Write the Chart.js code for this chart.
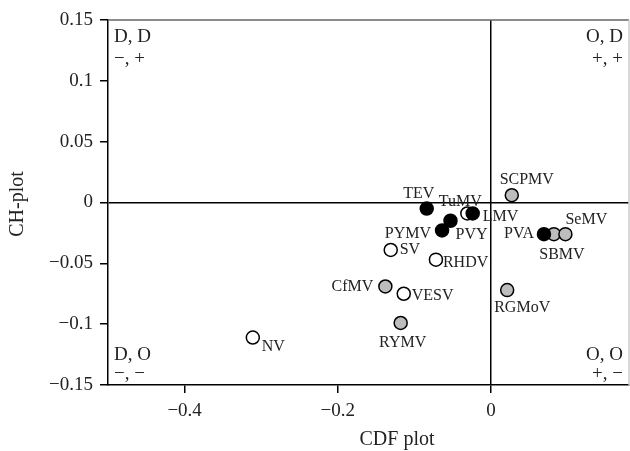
<!DOCTYPE html>
<html>
<head>
<meta charset="utf-8">
<script src="https://cdn.jsdelivr.net/npm/chart.js@4"></script>
<style>
    body { margin: 0; background: #fff; }
    #wrap { width: 630px; height: 451px; }
</style>
</head>
<body>
<div id="wrap"><canvas id="scatterChart" width="630" height="451"></canvas></div>
<script>
// Data
const virusNames = ["TEV", "TuMV", "LMV", "PVY", "PYMV", "SV", "RHDV", "PVA", "SBMV", "SeMV", "SCPMV", "CfMV", "VESV", "RGMoV", "RYMV", "NV"];
const cdfValues  = [-0.084, -0.031, -0.024, -0.053, -0.064, -0.131, -0.072, 0.069, 0.082, 0.097, 0.027, -0.138, -0.114, 0.021, -0.118, -0.311];
const chValues   = [-0.005, -0.009, -0.009, -0.015, -0.023, -0.039, -0.047, -0.026, -0.026, -0.026, 0.006, -0.069, -0.075, -0.072, -0.099, -0.111];
const markerKind = ["filled", "open", "filled", "filled", "filled", "open", "open", "filled", "shaded", "shaded", "shaded", "shaded", "open", "shaded", "shaded", "open"];
const cdfTicks = [-0.4, -0.2, 0];
const chTicks = [-0.15, -0.1, -0.05, 0, 0.05, 0.1, 0.15];

const serif = "'Liberation Serif', 'DejaVu Serif', serif";
const textColor = "#222";

// label placement relative to each marker: [dx, dy, align]
const labelPlace = {
    TEV: [-8, -15, "center"], TuMV: [-7, -12, "center"], LMV: [10, 3, "left"],
    PVY: [5, 14, "left"], PYMV: [-11, 3, "right"], SV: [9, 0, "left"],
    RHDV: [7, 3, "left"], PVA: [-10, 0, "right"], SBMV: [8, 21, "center"],
    SeMV: [0, -14, "left"], SCPMV: [15, -15, "center"], CfMV: [-12, 0, "right"],
    VESV: [8, 2, "left"], RGMoV: [15, 18, "center"], RYMV: [2, 20, "center"],
    NV: [9, 9, "left"]
};

const fills = { filled: "#000", shaded: "#bdbdbd", open: "#fff" };

function makeDataset(kind, order) {
    const pts = [];
    virusNames.forEach((name, i) => {
        if (markerKind[i] === kind) pts.push({ x: cdfValues[i], y: chValues[i], name: name });
    });
    return {
        label: kind,
        data: pts,
        backgroundColor: fills[kind],
        borderColor: "#000",
        borderWidth: 1.5,
        pointRadius: 6.5,
        pointHoverRadius: 6.5,
        order: order
    };
}

function fmt(v) {
    const s = String(Number(v.toFixed(2)));
    return s.replace("-", "\u2212");
}

const annotate = {
    id: "annotate",
    beforeDatasetsDraw(chart) {
        const { ctx, chartArea: a } = chart;
        ctx.save();
        ctx.strokeStyle = "#666";
        ctx.lineWidth = 1.5;
        ctx.beginPath();
        ctx.moveTo(a.left, a.top);
        ctx.lineTo(a.right, a.top);
        ctx.stroke();
        ctx.strokeStyle = "#ccc";
        ctx.beginPath();
        ctx.moveTo(a.right, a.top);
        ctx.lineTo(a.right, a.bottom);
        ctx.stroke();
        ctx.restore();
    },
    afterDatasetsDraw(chart) {
        const { ctx, chartArea: a, scales } = chart;
        ctx.save();
        ctx.fillStyle = textColor;
        ctx.textBaseline = "middle";

        // point labels
        ctx.font = "16px " + serif;
        virusNames.forEach((name, i) => {
            const p = labelPlace[name];
            const px = scales.x.getPixelForValue(cdfValues[i]);
            const py = scales.y.getPixelForValue(chValues[i]);
            ctx.textAlign = p[2];
            ctx.fillText(name, px + p[0], py + p[1]);
        });

        // quadrant notes
        ctx.font = "19px " + serif;
        ctx.textAlign = "left";
        ctx.fillText("D, D", a.left + 6, a.top + 17);
        ctx.fillText("\u2212, +", a.left + 6, a.top + 39);
        ctx.fillText("D, O", a.left + 6, a.bottom - 30);
        ctx.fillText("\u2212, \u2212", a.left + 6, a.bottom - 11);
        ctx.textAlign = "right";
        ctx.fillText("O, D", a.right - 6, a.top + 17);
        ctx.fillText("+, +", a.right - 6, a.top + 39);
        ctx.fillText("O, O", a.right - 6, a.bottom - 30);
        ctx.fillText("+, \u2212", a.right - 6, a.bottom - 11);

        // axis titles
        ctx.font = "20px " + serif;
        ctx.textAlign = "center";
        ctx.fillText("CDF plot", 397, 440);
        ctx.translate(18, 204);
        ctx.rotate(-Math.PI / 2);
        ctx.fillText("CH-plot", 0, 0);
        ctx.restore();
    }
};

document.addEventListener("DOMContentLoaded", () => {
    new Chart(document.getElementById("scatterChart"), {
        type: "scatter",
        data: {
            datasets: [makeDataset("filled", 1), makeDataset("shaded", 2), makeDataset("open", 3)]
        },
        options: {
            responsive: false,
            animation: false,
            events: [],
            layout: { autoPadding: false, padding: { left: 0, top: 20, right: 1, bottom: 0 } },
            plugins: {
                legend: { display: false },
                tooltip: { enabled: false }
            },
            scales: {
                x: {
                    type: "linear",
                    min: -0.5,
                    max: 0.18,
                    afterBuildTicks: scale => { scale.ticks = cdfTicks.map(v => ({ value: v })); },
                    afterFit: scale => {
                        scale.height = 66;
                        scale.paddingLeft = 0;
                        scale.paddingRight = 0;
                    },
                    border: { display: true, color: "#000", width: 1.5 },
                    grid: {
                        drawOnChartArea: true,
                        color: c => (c.tick && c.tick.value === 0 ? "#000" : "rgba(0,0,0,0)"),
                        lineWidth: 1.5,
                        tickColor: "#000",
                        tickLength: 8
                    },
                    ticks: {
                        color: textColor,
                        font: { family: serif, size: 19 },
                        padding: 7,
                        maxRotation: 0,
                        callback: v => fmt(v)
                    }
                },
                y: {
                    type: "linear",
                    min: -0.15,
                    max: 0.15,
                    afterBuildTicks: scale => { scale.ticks = chTicks.map(v => ({ value: v })); },
                    afterFit: scale => {
                        scale.width = 108;
                        scale.paddingTop = 0;
                        scale.paddingBottom = 0;
                    },
                    border: { display: true, color: "#000", width: 1.5 },
                    grid: {
                        drawOnChartArea: true,
                        color: c => (c.tick && c.tick.value === 0 ? "#000" : "rgba(0,0,0,0)"),
                        lineWidth: 1.5,
                        tickColor: "#000",
                        tickLength: 8
                    },
                    ticks: {
                        color: textColor,
                        font: { family: serif, size: 19 },
                        padding: 7,
                        callback: v => fmt(v)
                    }
                }
            }
        },
        plugins: [annotate]
    });
});
</script>
</body>
</html>
